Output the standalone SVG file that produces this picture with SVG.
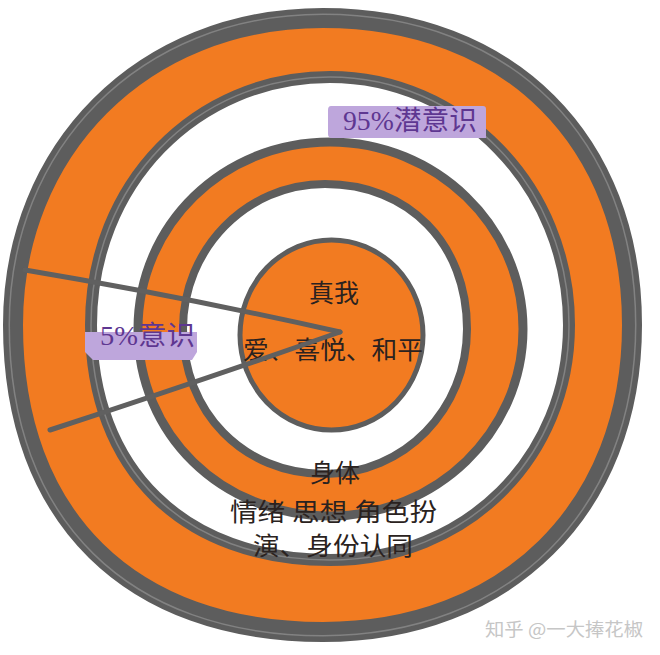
<svg xmlns="http://www.w3.org/2000/svg" xmlns:xlink="http://www.w3.org/1999/xlink" width="660" height="655" viewBox="0 0 660 655">
<style>
.ring{stroke:#5d5d5d;stroke-linejoin:round}
.o{fill:#f27b21}
.w{fill:#ffffff}
.hl{fill:none;stroke:#a0a0a0;stroke-width:1.5;opacity:.55}
.lbl{fill:#bea6dc}
.lt{font-family:"Liberation Serif","Noto Sans CJK SC",serif;font-size:27px;fill:#5e3791}
.t{font-family:"Liberation Serif","Noto Sans CJK SC",serif;font-size:25px;fill:#2a2220;text-anchor:middle}
.wm{font-family:"Noto Sans CJK SC","Liberation Sans",sans-serif;font-size:18px;fill:#c6c6c6}
.cn{fill:none;stroke:#606060;stroke-width:5;stroke-linecap:round}
</style>
<defs>
<path id="p1" d="M13,325 C13,150 142,18 323,18 C509,18 632,141 632,325 C632,509 506,632 323,632 C131,632 13,518 13,325 Z"/>
<path id="p2" d="M91,325 C91,184 196,77 330,77 C460,77 569,185 569,325 C569,457 467,560 330,560 C184,560 91,470 91,325 Z"/>
</defs>
<rect width="660" height="655" fill="#ffffff"/>
<g id="ring-outer">
<use xlink:href="#p1" class="ring o" stroke-width="20"/>
<use xlink:href="#p1" class="hl" transform="translate(323 325) scale(1.012) translate(-323 -325)"/>
</g>
<g id="ring-subconscious">
<use xlink:href="#p2" class="ring w" stroke-width="12"/>
<use xlink:href="#p2" class="hl"/>
</g>
<g id="ring-body">
<path class="ring o" stroke-width="9" d="M138,329 C138,225 223,142 330,142 C436,142 523,226 523,329 C523,432 436,516 330,516 C221,516 138,434 138,329 Z"/>
</g>
<g id="ring-inner-white">
<path class="ring w" stroke-width="8" d="M183,329 C183,249 246,184 325,184 C409,184 467,244 467,329 C467,410 404,474 325,474 C243,474 183,412 183,329 Z"/>
</g>
<g id="core">
<ellipse class="ring o" cx="331.5" cy="335" rx="91.5" ry="95" stroke-width="5"/>
<text class="t" x="334" y="302">真我</text>
<text class="t" x="333" y="359" textLength="180" lengthAdjust="spacingAndGlyphs">爱、喜悦、和平</text>
</g>
<g id="connectors">
<path class="cn" d="M25 270 Q180 296 340 332"/>
<path class="cn" d="M50 430 Q200 381 340 332"/>
</g>
<g id="body-text">
<text class="t" x="335" y="482">身体</text>
<text class="t" x="333.5" y="521" textLength="207" lengthAdjust="spacingAndGlyphs">情绪 思想 角色扮</text>
<text class="t" x="333" y="555" textLength="160" lengthAdjust="spacingAndGlyphs">演、身份认同</text>
</g>
<g id="label-95">
<path class="lbl" d="M331 106 H483 Q486 106 486 109 V138 H332 Q328 138 328 134 V110 Q328 106 331 106 Z"/>
<text class="lt" x="343" y="130" textLength="134" lengthAdjust="spacingAndGlyphs">95%潜意识</text>
</g>
<g id="label-5">
<path class="lbl" d="M85 332 H197 V352 L192 360 H93 L85 352 Z"/>
<text class="lt" x="100" y="345" textLength="95" lengthAdjust="spacingAndGlyphs">5%意识</text>
</g>
<g id="watermark">
<text class="wm" x="485" y="636" textLength="158" lengthAdjust="spacingAndGlyphs">知乎 @一大捧花椒</text>
</g>
</svg>
